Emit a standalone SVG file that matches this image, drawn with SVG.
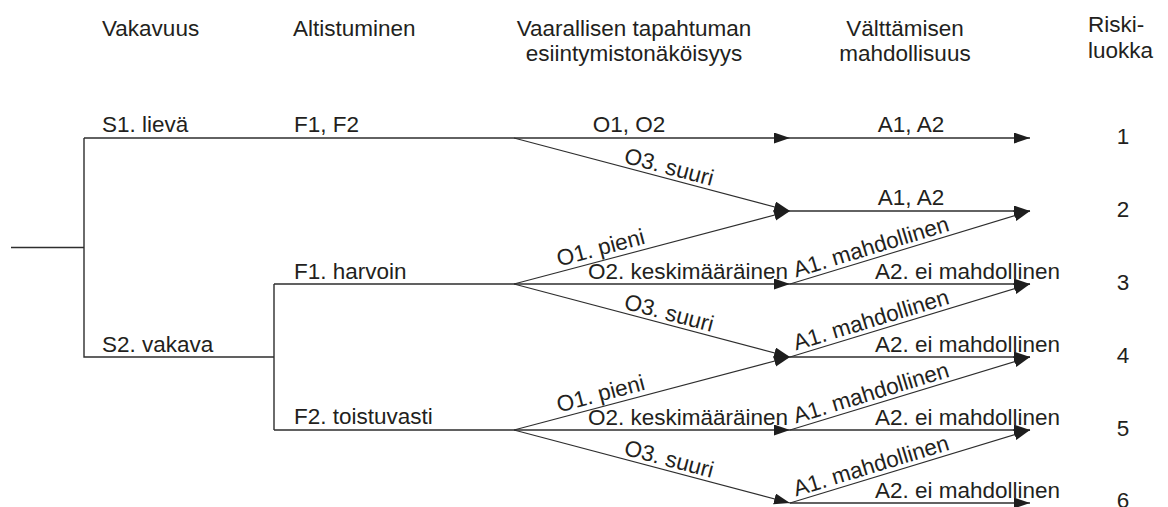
<svg xmlns="http://www.w3.org/2000/svg" width="1168" height="507" viewBox="0 0 1168 507">
<style>
text{font-family:"Liberation Sans",Arial,sans-serif;font-size:22.5px;fill:#231f20}
.c{text-anchor:middle}
.ln{stroke:#2e2e2e;stroke-width:1.4;fill:none}
.dg{stroke:#2e2e2e;stroke-width:1.1;fill:none}
.ar{marker-end:url(#ah)}
</style>
<defs>
<marker id="ah" markerUnits="userSpaceOnUse" markerWidth="17" markerHeight="12" refX="16" refY="5.5" orient="auto">
<path d="M0,0 L16,5.5 L0,11 Z" fill="#1e1e1e"/>
</marker>
</defs>
<rect width="1168" height="507" fill="#ffffff"/>

<g id="headers">
<text x="102" y="36">Vakavuus</text>
<text x="293" y="36">Altistuminen</text>
<text class="c" x="634" y="36">Vaarallisen tapahtuman</text>
<text class="c" x="634" y="61">esiintymistonäköisyys</text>
<text class="c" x="905" y="36">Välttämisen</text>
<text class="c" x="905" y="61">mahdollisuus</text>
<text x="1088" y="32">Riski-</text>
<text x="1088" y="58">luokka</text>
</g>

<g id="connectors">
<path class="ln" d="M11,247.5 H84 M84,138 V357 H274 M274,284 V430 M274,284 H514 M274,430 H514"/>
<line class="ln ar" x1="84" y1="138" x2="790" y2="138"/>
<line class="ln ar" x1="790" y1="138" x2="1030" y2="138"/>
<line class="dg ar" x1="514" y1="138" x2="790" y2="211"/>
<line class="ln ar" x1="790" y1="211" x2="1030" y2="211"/>
<line class="dg ar" x1="514" y1="284" x2="790" y2="211"/>
<line class="ln ar" x1="514" y1="284" x2="790" y2="284"/>
<line class="dg ar" x1="514" y1="284" x2="790" y2="357"/>
<line class="dg ar" x1="514" y1="430" x2="790" y2="357"/>
<line class="ln ar" x1="514" y1="430" x2="790" y2="430"/>
<line class="dg ar" x1="514" y1="430" x2="790" y2="503"/>
<line class="dg ar" x1="790" y1="284" x2="1030" y2="211"/>
<line class="ln ar" x1="790" y1="284" x2="1030" y2="284"/>
<line class="dg ar" x1="790" y1="357" x2="1030" y2="284"/>
<line class="ln ar" x1="790" y1="357" x2="1030" y2="357"/>
<line class="dg ar" x1="790" y1="430" x2="1030" y2="357"/>
<line class="ln ar" x1="790" y1="430" x2="1030" y2="430"/>
<line class="dg ar" x1="790" y1="503" x2="1030" y2="430"/>
<line class="ln ar" x1="790" y1="503" x2="1030" y2="503"/>
</g>

<g id="severity">
<text x="102" y="132">S1. lievä</text>
<text x="102" y="351.5">S2. vakava</text>
</g>

<g id="exposure">
<text x="294" y="132">F1, F2</text>
<text x="294" y="278.5">F1. harvoin</text>
<text x="294" y="424">F2. toistuvasti</text>
</g>

<g id="probability">
<text class="c" x="629" y="131.5">O1, O2</text>
<text transform="translate(623,162.5) rotate(14.82)">O3. suuri</text>
<text transform="translate(559,266.5) rotate(-14.82)">O1. pieni</text>
<text x="588" y="278.5">O2. keskimääräinen</text>
<text transform="translate(623,308.5) rotate(14.82)">O3. suuri</text>
<text transform="translate(559,412.5) rotate(-14.82)">O1. pieni</text>
<text x="588" y="424.5">O2. keskimääräinen</text>
<text transform="translate(623,454.5) rotate(14.82)">O3. suuri</text>
</g>

<g id="avoidance">
<text class="c" x="911" y="131.5">A1, A2</text>
<text class="c" x="911" y="205">A1, A2</text>
<text transform="translate(796,277.5) rotate(-16.92)">A1. mahdollinen</text>
<text x="875" y="278.5">A2. ei mahdollinen</text>
<text transform="translate(796,350.5) rotate(-16.92)">A1. mahdollinen</text>
<text x="875" y="351.5">A2. ei mahdollinen</text>
<text transform="translate(796,423.5) rotate(-16.92)">A1. mahdollinen</text>
<text x="875" y="424.5">A2. ei mahdollinen</text>
<text transform="translate(796,496.5) rotate(-16.92)">A1. mahdollinen</text>
<text x="875" y="497.5">A2. ei mahdollinen</text>
</g>

<g id="risk-classes">
<text class="c" x="1123" y="143.5">1</text>
<text class="c" x="1123" y="216.5">2</text>
<text class="c" x="1123" y="289.5">3</text>
<text class="c" x="1123" y="362.5">4</text>
<text class="c" x="1123" y="435.5">5</text>
<text class="c" x="1123" y="508">6</text>
</g>
</svg>
